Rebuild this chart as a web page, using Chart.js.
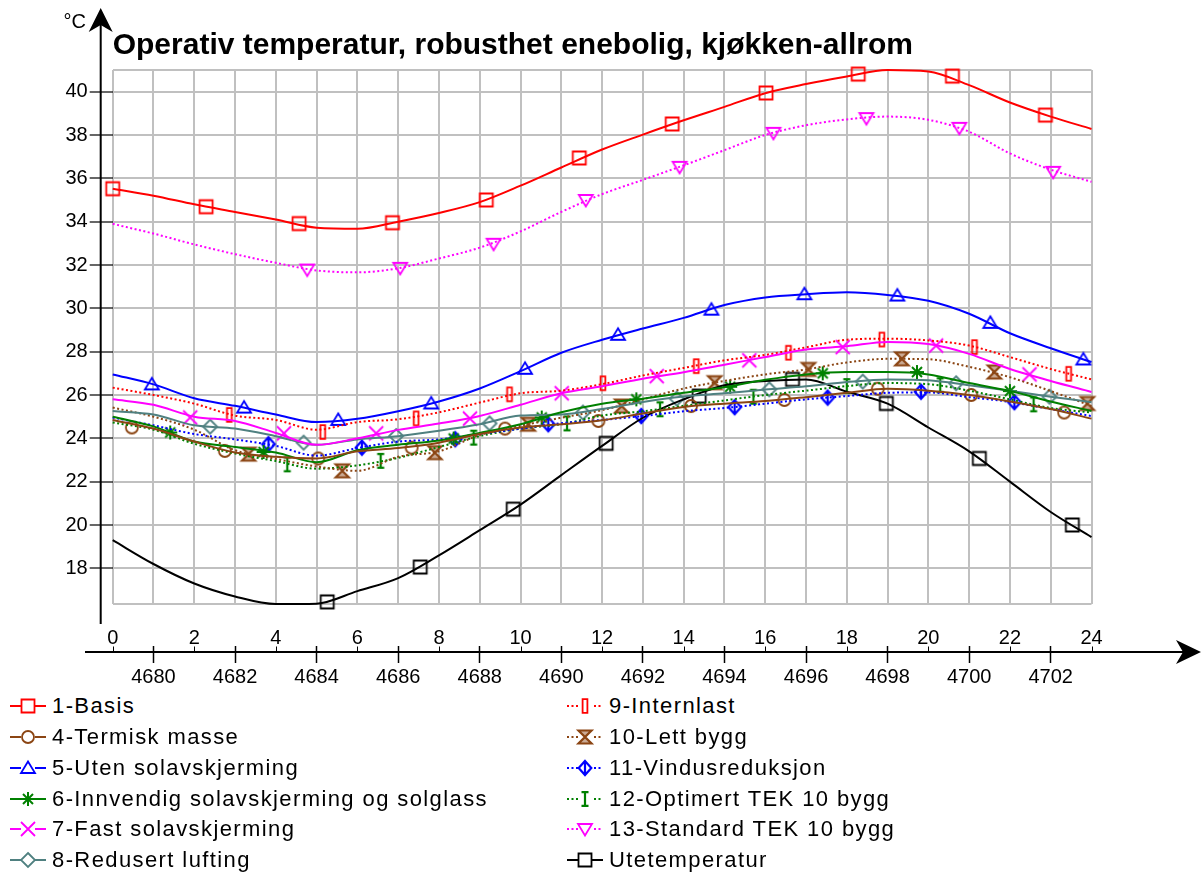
<!DOCTYPE html>
<html>
<head>
<meta charset="utf-8">
<script src="https://cdn.jsdelivr.net/npm/chart.js@4.4.1/dist/chart.umd.min.js"></script>
<style>
html,body{margin:0;padding:0;background:#fff;}
#wrap{position:relative;width:1201px;height:872px;overflow:hidden;font-family:"Liberation Sans",Arial,sans-serif;}
#c{position:absolute;left:0;top:0;}
.leg{position:absolute;height:26px;display:flex;align-items:center;font-size:22px;letter-spacing:1.4px;color:#000;white-space:nowrap;line-height:26px;}
.leg canvas{margin-right:6px;flex:none;}
</style>
</head>
<body>
<div id="wrap">
<canvas id="c" width="1201" height="690"></canvas>
<div id="legend"></div>
</div>
<script>
// ---------- data ----------
const hours = [0,1,2,3,4,5,6,7,8,9,10,11,12,13,14,15,16,17,18,19,20,21,22,23,24];
const hourOfYearMin = 4679, hourOfYearMax = 4703;
const yTickLabels = [18,20,22,24,26,28,30,32,34,36,38,40];

const basis      = [35.52,35.2,34.8,34.45,34.1,33.72,33.67,34.0,34.4,34.9,35.66,36.5,37.33,38.02,38.68,39.3,39.93,40.35,40.7,41.0,40.93,40.3,39.5,38.85,38.28];
const basisMx    = [0,2.29,4.57,6.86,9.16,11.44,13.72,16.02,18.28,20.59,22.87];
const basisMy    = [35.52,34.69,33.91,33.95,35.0,36.94,38.51,39.94,40.81,40.72,38.92];

const termisk    = [24.85,24.45,23.85,23.35,23.15,23.07,23.4,23.55,23.8,24.2,24.5,24.65,24.83,25.15,25.45,25.6,25.72,25.9,26.1,26.29,26.2,26.0,25.7,25.35,24.91];
const termiskMx  = [0.47,2.75,5.04,7.33,9.62,11.91,14.18,16.47,18.76,21.05,23.33];
const termiskMy  = [24.5,23.42,23.07,23.57,24.45,24.8,25.49,25.77,26.29,26.0,25.19];

const uten       = [26.95,26.49,25.85,25.5,25.1,24.75,24.9,25.25,25.7,26.3,27.1,27.95,28.55,29.07,29.56,30.15,30.5,30.65,30.74,30.62,30.35,29.75,28.85,28.16,27.52];
const utenMx     = [0.96,3.22,5.53,7.81,10.11,12.39,14.68,16.96,19.24,21.52,23.8];
const utenMy     = [26.49,25.42,24.85,25.61,27.21,28.78,29.94,30.65,30.59,29.33,27.64];

const innvendig  = [25.0,24.55,23.85,23.6,23.35,22.9,23.45,23.7,23.9,24.25,24.65,25.2,25.6,25.83,26.1,26.36,26.7,26.95,27.06,27.06,26.95,26.55,26.18,25.7,25.26];
const innvendigMx= [1.41,3.7,8.36,10.52,12.84,15.14,17.41,19.72,22.0];
const innvendigMy= [24.27,23.37,23.99,24.96,25.8,26.38,27.0,27.06,26.18];

const fast       = [25.8,25.55,25.0,24.8,24.25,23.7,24.0,24.39,24.68,25.03,25.55,26.08,26.4,26.75,27.05,27.4,27.75,28.1,28.25,28.45,28.35,27.9,27.2,26.65,26.14];
const fastMx     = [1.9,4.2,6.46,8.76,11.01,13.34,15.61,17.9,20.19,22.48];
const fastMy     = [24.96,24.23,24.23,24.91,26.08,26.87,27.6,28.21,28.28,26.95];

const redusert   = [25.26,25.1,24.6,24.45,24.1,23.7,23.95,24.1,24.35,24.65,25.05,25.1,25.35,25.68,25.93,26.08,26.25,26.4,26.6,26.72,26.68,26.45,26.2,25.92,25.67];
const redusertMx = [2.39,4.68,6.95,9.24,11.53,13.83,16.1,18.39,20.68,22.97];
const redusertMy = [24.54,23.8,24.11,24.69,25.19,25.83,26.26,26.62,26.54,25.92];

const internlast   = [26.34,26.0,25.6,25.05,24.85,24.4,24.75,24.88,25.2,25.65,26.08,26.2,26.5,26.9,27.25,27.6,27.85,28.2,28.55,28.6,28.52,28.28,27.75,27.2,26.72];
const internlastMx = [2.86,5.15,7.44,9.73,12.02,14.31,16.57,18.86,21.13,23.44];
const internlastMy = [25.08,24.29,24.92,26.03,26.54,27.33,27.95,28.56,28.21,26.98];

const lett       = [25.42,25.0,24.4,23.45,23.05,22.7,22.5,23.15,23.4,24.15,24.58,24.95,25.3,25.8,26.3,26.65,26.95,27.18,27.5,27.67,27.65,27.3,26.82,26.18,25.5];
const lettMx     = [3.33,5.63,7.9,10.19,12.48,14.76,17.06,19.35,21.62,23.9];
const lettMy     = [23.27,22.5,23.34,24.65,25.49,26.57,27.18,27.67,27.06,25.61];

const vindus     = [24.96,24.6,24.2,23.95,23.65,23.2,23.55,23.85,23.95,24.2,24.45,24.7,24.85,25.03,25.25,25.4,25.6,25.8,25.95,26.1,26.12,25.9,25.68,25.35,25.03];
const vindusMx   = [3.82,6.11,8.4,10.68,12.96,15.25,17.53,19.82,22.11];
const vindusMy   = [23.73,23.57,23.96,24.65,25.03,25.44,25.88,26.15,25.67];

const optimert   = [24.73,24.4,23.75,23.3,22.95,22.6,22.75,23.1,23.6,24.1,24.45,24.65,25.05,25.25,25.5,25.75,26.0,26.2,26.41,26.55,26.5,26.2,25.8,25.4,25.19];
const optimertMx = [4.28,6.57,8.85,11.14,13.42,15.71,18.0,20.29,22.58];
const optimertMy = [22.8,22.96,24.03,24.69,25.34,25.92,26.41,26.45,25.57];

const standard   = [33.9,33.45,32.95,32.5,32.1,31.75,31.66,31.85,32.3,32.8,33.55,34.45,35.27,35.93,36.6,37.3,38.0,38.45,38.72,38.85,38.7,38.15,37.15,36.4,35.84];
const standardMx = [4.77,7.05,9.34,11.6,13.9,16.2,18.48,20.76,23.06];
const standardMy = [31.79,31.87,32.98,35.0,36.53,38.1,38.78,38.33,36.3];

const ute        = [19.3,18.2,17.3,16.7,16.35,16.37,16.95,17.55,18.6,19.76,20.94,22.3,23.65,24.95,25.8,26.45,26.65,26.72,26.15,25.6,24.5,23.4,22.0,20.6,19.44];
const uteMx      = [5.26,7.54,9.82,12.1,14.38,16.67,18.97,21.25,23.53];
const uteMy      = [16.45,18.06,20.73,23.77,25.95,26.72,25.61,23.07,20.0];

// ---------- series description (styles kept separate from data) ----------
const series = [
  {label:'1-Basis', v:basis, mx:basisMx, my:basisMy, color:'#ff0000', dash:[], marker:'square'},
  {label:'4-Termisk masse', v:termisk, mx:termiskMx, my:termiskMy, color:'#8b4513', dash:[], marker:'circle'},
  {label:'5-Uten solavskjerming', v:uten, mx:utenMx, my:utenMy, color:'#0000ff', dash:[], marker:'triangle'},
  {label:'6-Innvendig solavskjerming og solglass', v:innvendig, mx:innvendigMx, my:innvendigMy, color:'#008000', dash:[], marker:'star'},
  {label:'7-Fast solavskjerming', v:fast, mx:fastMx, my:fastMy, color:'#ff00ff', dash:[], marker:'cross'},
  {label:'8-Redusert lufting', v:redusert, mx:redusertMx, my:redusertMy, color:'#4f8080', dash:[], marker:'diamond'},
  {label:'9-Internlast', v:internlast, mx:internlastMx, my:internlastMy, color:'#ff0000', dash:[2,2.5], marker:'bar'},
  {label:'10-Lett bygg', v:lett, mx:lettMx, my:lettMy, color:'#8b4513', dash:[2,2.5], marker:'hourglass'},
  {label:'11-Vindusreduksjon', v:vindus, mx:vindusMx, my:vindusMy, color:'#0000ff', dash:[2,2.5], marker:'diamondBar'},
  {label:'12-Optimert TEK 10 bygg', v:optimert, mx:optimertMx, my:optimertMy, color:'#008000', dash:[2,2.5], marker:'ibeam'},
  {label:'13-Standard TEK 10 bygg', v:standard, mx:standardMx, my:standardMy, color:'#ff00ff', dash:[2,2.5], marker:'triangleDown'},
  {label:'Utetemperatur', v:ute, mx:uteMx, my:uteMy, color:'#000000', dash:[], marker:'square'}
];

function makeMarker(kind, color){
  const c = document.createElement('canvas');
  c.width = 20; c.height = 20;
  const g = c.getContext('2d');
  g.translate(10, 10);
  g.strokeStyle = color; g.fillStyle = color; g.lineWidth = 1.8;
  g.beginPath();
  switch(kind){
    case 'square': g.rect(-6.5,-6.5,13,13); break;
    case 'circle': g.arc(0,0,6,0,Math.PI*2); break;
    case 'triangle': g.moveTo(0,-6.5); g.lineTo(7,5); g.lineTo(-7,5); g.closePath(); break;
    case 'triangleDown': g.moveTo(-7,-5); g.lineTo(7,-5); g.lineTo(0,6.5); g.closePath(); break;
    case 'star': g.lineWidth = 2;
      g.moveTo(0,-7); g.lineTo(0,7); g.moveTo(-7,0); g.lineTo(7,0);
      g.moveTo(-5,-5); g.lineTo(5,5); g.moveTo(5,-5); g.lineTo(-5,5); break;
    case 'cross': g.moveTo(-7,-7); g.lineTo(7,7); g.moveTo(7,-7); g.lineTo(-7,7); break;
    case 'diamond': g.moveTo(0,-7); g.lineTo(7,0); g.lineTo(0,7); g.lineTo(-7,0); g.closePath(); break;
    case 'bar': g.rect(-2.4,-6.8,4.8,13.6); break;
    case 'hourglass':
      g.moveTo(-6.5,-6.5); g.lineTo(6.5,-6.5); g.lineTo(-6.5,6.5); g.lineTo(6.5,6.5); g.closePath();
      g.globalAlpha = 0.45; g.fill(); g.globalAlpha = 1; g.lineWidth = 2.2; break;
    case 'diamondBar': g.lineWidth = 2.2;
      g.moveTo(0,-7); g.lineTo(6.3,0); g.lineTo(0,7); g.lineTo(-6.3,0); g.closePath();
      g.moveTo(0,-7); g.lineTo(0,7); break;
    case 'ibeam': g.lineWidth = 2.2;
      g.moveTo(0,-6.8); g.lineTo(0,6.8); g.moveTo(-3.5,-6.8); g.lineTo(3.5,-6.8);
      g.moveTo(-3.5,6.8); g.lineTo(3.5,6.8); break;
  }
  g.stroke();
  return c;
}

const datasets = [];
series.forEach(s => {
  datasets.push({
    label: s.label,
    data: hours.map((h, i) => ({x: h, y: s.v[i]})),
    borderColor: s.color, backgroundColor: s.color,
    borderWidth: 2, borderDash: s.dash,
    pointRadius: 0, cubicInterpolationMode: 'monotone',
    fill: false, clip: 3, xAxisID: 'x', yAxisID: 'y'
  });
});
series.forEach(s => {
  datasets.push({
    label: s.label + ' (markører)',
    data: s.mx.map((x, i) => ({x: x, y: s.my[i]})),
    showLine: false, pointStyle: makeMarker(s.marker, s.color),
    pointRadius: 6, borderColor: s.color, backgroundColor: s.color,
    clip: false, xAxisID: 'x', yAxisID: 'y'
  });
});

const yMin = 16.34, yMax = 41;
const FONT = '"Liberation Sans", Arial, sans-serif';

const axisDeco = {
  id: 'axisDeco',
  afterDraw(chart){
    const {ctx, chartArea: ca, scales} = chart;
    const xs = scales.x, x2 = scales.x2;
    const ax = ca.left - 12;
    const ay = x2.top + 6;
    ctx.save();
    ctx.strokeStyle = '#000'; ctx.fillStyle = '#000'; ctx.lineWidth = 2;
    // vertical axis line + arrow
    ctx.beginPath(); ctx.moveTo(ax, 22); ctx.lineTo(ax, ay - 28); ctx.stroke();
    ctx.beginPath(); ctx.moveTo(ax, 8); ctx.lineTo(ax + 12, 32); ctx.lineTo(ax, 25); ctx.lineTo(ax - 12, 32); ctx.closePath(); ctx.fill();
    // horizontal axis line + arrow
    ctx.beginPath(); ctx.moveTo(85, ay); ctx.lineTo(1190, ay); ctx.stroke();
    ctx.beginPath(); ctx.moveTo(1201, ay); ctx.lineTo(1176, ay - 12); ctx.lineTo(1183, ay); ctx.lineTo(1176, ay + 12); ctx.closePath(); ctx.fill();
    // small ticks at the labelled hours
    ctx.lineWidth = 1;
    hours.filter(h => h % 2 === 0).forEach(h => {
      const px = Math.round(xs.getPixelForValue(h)) + 0.5;
      ctx.beginPath(); ctx.moveTo(px, ay - 5.5); ctx.lineTo(px, ay); ctx.stroke();
    });
    // unit
    ctx.font = '20px ' + FONT; ctx.textAlign = 'right'; ctx.textBaseline = 'alphabetic';
    ctx.fillText('°C', 86, 28);
    ctx.restore();
  }
};

const chart = new Chart(document.getElementById('c'), {
  type: 'line',
  data: {datasets},
  options: {
    responsive: false, animation: false, devicePixelRatio: 1,
    layout: {padding: {left: 0, right: 109.5, top: 0, bottom: 0}},
    plugins: {
      legend: {display: false},
      tooltip: {enabled: false},
      title: {
        display: true, text: 'Operativ temperatur, robusthet enebolig, kjøkken-allrom',
        align: 'start', fullSize: false, color: '#000',
        font: {family: FONT, size: 30, weight: 'bold', lineHeight: 1.2},
        padding: {top: 28, bottom: 6}
      }
    },
    scales: {
      x: {
        type: 'linear', position: 'bottom', min: 0, max: 24, weight: 0,
        ticks: {stepSize: 1, autoSkip: false, maxRotation: 0, padding: 21.7, color: '#000',
          font: {family: FONT, size: 20},
          callback: v => (v % 2 === 0 ? String(v) : '')},
        grid: {color: '#c0c0c0', lineWidth: 2, drawTicks: false},
        border: {display: false},
        afterFit: s => { s.height = 41.7; }
      },
      x2: {
        type: 'linear', position: 'bottom', min: hourOfYearMin, max: hourOfYearMax, weight: 1,
        ticks: {stepSize: 1, autoSkip: false, maxRotation: 0, padding: 2, color: '#000',
          font: {family: FONT, size: 20},
          callback: v => (v % 2 === 0 ? String(v) : '')},
        grid: {drawOnChartArea: false, drawTicks: true, tickLength: 17, tickWidth: 1.5,
          tickColor: c => (c.tick && c.tick.value % 2 === 0 ? '#000' : 'rgba(0,0,0,0)')},
        border: {display: false},
        afterFit: s => { s.height = 44; }
      },
      y: {
        type: 'linear', position: 'left', min: yMin, max: yMax,
        afterBuildTicks: s => { s.ticks = [yMin].concat(yTickLabels, [yMax]).map(v => ({value: v})); },
        ticks: {autoSkip: false, padding: 2, color: '#000', font: {family: FONT, size: 20},
          callback: v => (yTickLabels.includes(v) ? String(v) : '')},
        grid: {color: '#c0c0c0', lineWidth: 2, drawTicks: true, tickLength: 23, tickWidth: 1.2,
          tickColor: c => (c.tick && yTickLabels.includes(c.tick.value) ? '#000' : 'rgba(0,0,0,0)')},
        border: {display: false},
        afterFit: s => { s.width = 112.7; }
      }
    }
  },
  plugins: [axisDeco]
});

// ---------- HTML legend in two columns ----------
const legend = document.getElementById('legend');
const colX = [10, 567];
const rowY = [705, 736, 767, 797.5, 828, 859];
series.forEach((s, i) => {
  const col = i < 6 ? 0 : 1, row = i % 6;
  const item = document.createElement('div');
  item.className = 'leg';
  item.style.left = colX[col] + 'px';
  item.style.top = (rowY[row] - 12) + 'px';
  const ic = document.createElement('canvas');
  ic.width = 36; ic.height = 20;
  const g = ic.getContext('2d');
  g.strokeStyle = s.color; g.lineWidth = 2; g.setLineDash(s.dash);
  g.beginPath(); g.moveTo(0, 10); g.lineTo(36, 10); g.stroke();
  g.setLineDash([]);
  const m = makeMarker(s.marker, s.color);
  g.clearRect(18 - 7, 10 - 7, 14, 14);
  g.drawImage(m, 18 - 10, 10 - 10);
  item.appendChild(ic);
  const t = document.createElement('span');
  t.textContent = s.label;
  item.appendChild(t);
  legend.appendChild(item);
});
</script>
</body>
</html>
